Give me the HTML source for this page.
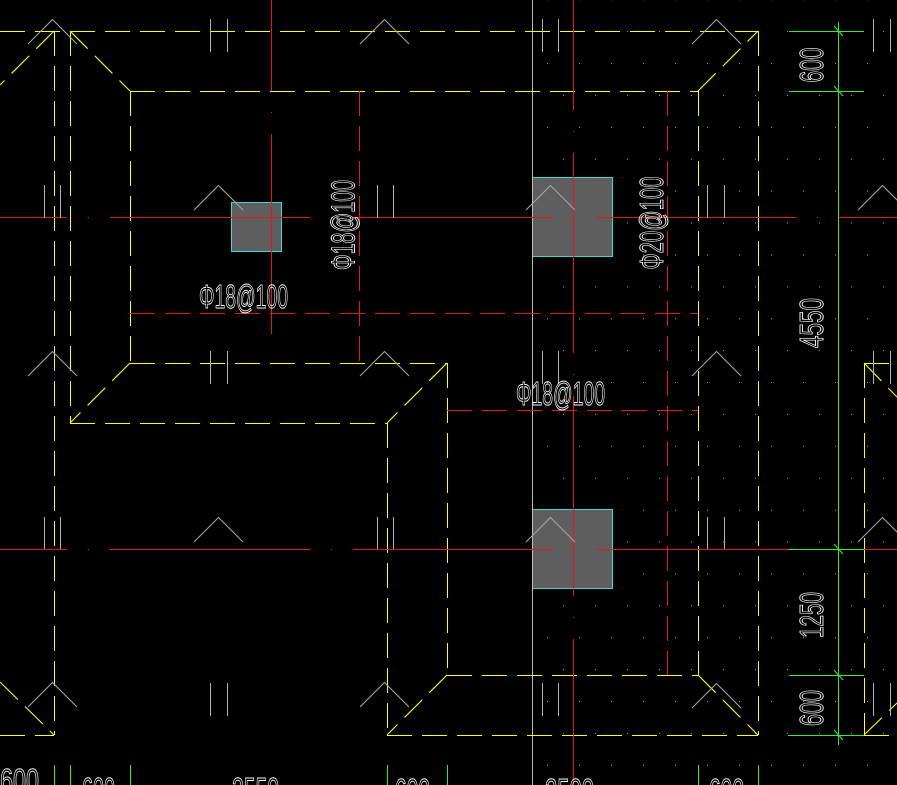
<!DOCTYPE html>
<html>
<head>
<meta charset="utf-8">
<style>
html,body{margin:0;padding:0;background:#000;width:897px;height:785px;overflow:hidden}
svg{display:block}
text{font-family:"Liberation Sans","DejaVu Sans",sans-serif;fill:none;stroke:#fff;stroke-width:0.9}
</style>
</head>
<body>
<svg width="897" height="785" viewBox="0 0 897 785" xmlns="http://www.w3.org/2000/svg">
<defs>
<pattern id="dots" x="547" y="63" width="32" height="63.8" patternUnits="userSpaceOnUse">
<rect x="0" y="0" width="1" height="1" fill="#a0a0a0"/>
<rect x="16" y="31.9" width="1" height="1" fill="#a0a0a0"/>
</pattern>
</defs>
<rect width="897" height="785" fill="#000"/>
<rect x="540" y="0" width="357" height="785" fill="url(#dots)"/>

<!-- columns -->
<g fill="#5e5e5e" stroke="#3fd8d8" stroke-width="1" shape-rendering="crispEdges">
<rect x="231.5" y="202.5" width="50" height="49"/>
<rect x="532.5" y="177.5" width="80" height="79"/>
<rect x="532.5" y="509.5" width="80" height="79"/>
</g>

<!-- gray axis line -->
<path d="M532.5 0V785" stroke="#bdbdbd" stroke-width="1" shape-rendering="crispEdges"/>

<!-- yellow dashed outlines: axis-aligned -->
<g stroke="#ffff1a" stroke-width="1" fill="none" stroke-dasharray="25 10" shape-rendering="crispEdges">
<path d="M0 31.5H758"/>
<path d="M54.5 31V735"/>
<path d="M70.5 31V423"/>
<path d="M130 91.5H698"/>
<path d="M130.5 91V363"/>
<path d="M130 363.5H447"/>
<path d="M70 423.5H387"/>
<path d="M447.5 363V675"/>
<path d="M387.5 423V735"/>
<path d="M447 675.5H698"/>
<path d="M698.5 91V675"/>
<path d="M758.5 31V735"/>
<path d="M387 735.5H758"/>
<path d="M0 735.5H54"/>
<path d="M864.5 363V735"/>
<path d="M864 363.5H897"/>
<path d="M864 735.5H897"/>
</g>
<!-- yellow diagonals -->
<g stroke="#ffff1a" stroke-width="1.1" fill="none" stroke-dasharray="25 10">
<path d="M54 31L0 85"/>
<path d="M70 31L130 91"/>
<path d="M130 363L70 423"/>
<path d="M447 363L387 423"/>
<path d="M447 675L387 735"/>
<path d="M698 91L758 31"/>
<path d="M698 675L758 735"/>
<path d="M0 682L54 735"/>
<path d="M864 363L897 397"/>
<path d="M864 735L897 703"/>
</g>

<!-- red dashed -->
<g stroke="#e01a1a" stroke-width="1" fill="none" stroke-dasharray="25 10" shape-rendering="crispEdges">
<path d="M130 313.5H698"/>
<path d="M359.5 91V363"/>
<path d="M667.5 91V675"/>
<path d="M447 410.5H698"/>
</g>

<!-- red center lines -->
<g stroke="#e01a1a" stroke-width="1" fill="none" stroke-dasharray="200 21 1 21" shape-rendering="crispEdges">
<path d="M0 217.5H897" stroke-dashoffset="133"/>
<path d="M0 549.5H897" stroke-dashoffset="133"/>
<path d="M271.5 0V335" stroke-dashoffset="109"/>
<path d="M573.5 0V785" stroke-dashoffset="90"/>
</g>

<!-- gray chevrons -->
<g stroke="#a8a8a8" stroke-width="1" fill="none">
<path d="M28 44L52.5 19.5L77 44"/>
<path d="M360 44L384.5 19.5L409 44"/>
<path d="M692 44L716.5 19.5L741 44"/>
<path d="M194 210L218.5 185.5L243 210"/>
<path d="M526 210L550.5 185.5L575 210"/>
<path d="M858 210L882.5 185.5L907 210"/>
<path d="M28 376L52.5 351.5L77 376"/>
<path d="M360 376L384.5 351.5L409 376"/>
<path d="M692 376L716.5 351.5L741 376"/>
<path d="M194 542L218.5 517.5L243 542"/>
<path d="M526 542L550.5 517.5L575 542"/>
<path d="M858 542L882.5 517.5L907 542"/>
<path d="M28 707L52.5 682.5L77 707"/>
<path d="M360 707L384.5 682.5L409 707"/>
<path d="M692 708L716.5 683.5L741 708"/>
</g>
<!-- gray double ticks -->
<g stroke="#b4b4b4" stroke-width="1" fill="none" shape-rendering="crispEdges">
<path d="M210.5 19V52M227.5 19V52"/>
<path d="M542.5 19V52M558.5 19V52"/>
<path d="M873.5 19V52M890.5 19V52"/>
<path d="M44.5 185V218M60.5 185V218"/>
<path d="M377.5 185V218M393.5 185V218"/>
<path d="M707.5 185V218M724.5 185V218"/>
<path d="M210.5 351V384M227.5 351V384"/>
<path d="M542.5 351V384M558.5 351V384"/>
<path d="M873.5 351V384M890.5 351V384"/>
<path d="M44.5 517V549M60.5 517V549"/>
<path d="M377.5 517V549M393.5 517V549"/>
<path d="M707.5 517V549M724.5 517V549"/>
<path d="M210.5 683V716M227.5 683V716"/>
<path d="M542.5 683V716M558.5 683V716"/>
<path d="M873.5 683V716M890.5 683V716"/>
</g>

<!-- green dimensions -->
<g stroke="#38e838" stroke-width="1" fill="none" shape-rendering="crispEdges">
<path d="M838.5 22V745"/>
<path d="M789 31.5H864"/>
<path d="M789 91.5H864"/>
<path d="M788 549.5H864"/>
<path d="M789 675.5H864"/>
<path d="M788 735.5H864"/>
<path d="M54.5 765V785M70.5 765V785M130.5 765V785M387.5 765V785M447.5 765V785M698.5 765V785M758.5 765V785"/>
</g>
<g stroke="#38e838" stroke-width="1.1" fill="none">
<path d="M834 26L843 36M834 86L843 96M834 544L843 554M834 670L843 680M834 730L843 740"/>
</g>

<!-- vertical texts -->
<text transform="translate(811,65) rotate(-90)" x="0" y="12" font-size="33" text-anchor="middle" textLength="35" lengthAdjust="spacingAndGlyphs">600</text>
<text transform="translate(811,323) rotate(-90)" x="0" y="12" font-size="33" text-anchor="middle" textLength="50" lengthAdjust="spacingAndGlyphs">4550</text>
<text transform="translate(811,615) rotate(-90)" x="0" y="12" font-size="33" text-anchor="middle" textLength="46" lengthAdjust="spacingAndGlyphs">1250</text>
<text transform="translate(811,708) rotate(-90)" x="0" y="12" font-size="33" text-anchor="middle" textLength="36" lengthAdjust="spacingAndGlyphs">600</text>
<text transform="translate(342.5,225) rotate(-90)" x="0" y="12" font-size="33" text-anchor="middle" textLength="90" lengthAdjust="spacingAndGlyphs">Φ18@100</text>
<text transform="translate(651,223) rotate(-90)" x="0" y="12" font-size="33" text-anchor="middle" textLength="93" lengthAdjust="spacingAndGlyphs">Φ20@100</text>

<!-- horizontal texts -->
<text x="199" y="308" font-size="33" textLength="89" lengthAdjust="spacingAndGlyphs">Φ18@100</text>
<text x="516" y="405" font-size="33" textLength="89" lengthAdjust="spacingAndGlyphs">Φ18@100</text>

<!-- bottom dimension texts (clipped) -->
<text x="0" y="792" font-size="33" textLength="39" lengthAdjust="spacingAndGlyphs">600</text>
<text x="82" y="801" font-size="33" textLength="33" lengthAdjust="spacingAndGlyphs">600</text>
<text x="232" y="801" font-size="33" textLength="47" lengthAdjust="spacingAndGlyphs">2550</text>
<text x="395" y="802" font-size="33" textLength="35" lengthAdjust="spacingAndGlyphs">600</text>
<text x="545" y="802" font-size="33" textLength="49" lengthAdjust="spacingAndGlyphs">2500</text>
<text x="709" y="802" font-size="33" textLength="35" lengthAdjust="spacingAndGlyphs">600</text>
</svg>
</body>
</html>
